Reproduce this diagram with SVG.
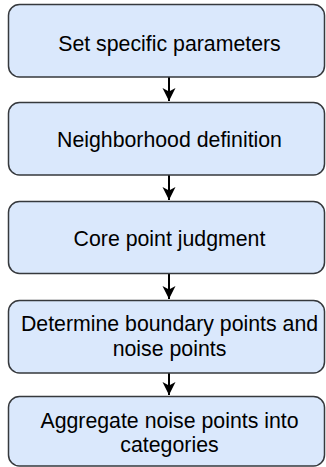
<svg xmlns="http://www.w3.org/2000/svg" width="326" height="467" viewBox="0 0 326 467">
<defs>
<style>
.box{fill:#dae8fc;stroke:#36393d;stroke-width:1.5}
.lbl{font-family:"Liberation Sans",Arial,sans-serif;font-size:21.3px;fill:#000;text-anchor:middle}
.con{stroke:#000;stroke-width:2;fill:none}
</style>
<marker id="ah" markerWidth="14" markerHeight="14" refX="13" refY="7" orient="auto" markerUnits="userSpaceOnUse">
<path d="M0,0.5 L13,7 L0,13.5 L3.5,7 Z" fill="#000"/>
</marker>
</defs>
<g id="connectors">
<line class="con" x1="169" y1="77" x2="169" y2="101" marker-end="url(#ah)"/>
<line class="con" x1="169" y1="175" x2="169" y2="200" marker-end="url(#ah)"/>
<line class="con" x1="169" y1="273" x2="169" y2="299" marker-end="url(#ah)"/>
<line class="con" x1="169" y1="373" x2="169" y2="395" marker-end="url(#ah)"/>
</g>
<g id="n1">
<rect class="box" x="8.5" y="4.5" width="316" height="72.5" rx="11"/>
<text class="lbl" x="169.5" y="51">Set specific parameters</text>
</g>
<g id="n2">
<rect class="box" x="8.5" y="102.5" width="316" height="72.5" rx="11"/>
<text class="lbl" x="169.5" y="147">Neighborhood definition</text>
</g>
<g id="n3">
<rect class="box" x="8.5" y="201.5" width="316" height="72" rx="11"/>
<text class="lbl" x="169.5" y="246">Core point judgment</text>
</g>
<g id="n4">
<rect class="box" x="8.5" y="300.5" width="316" height="72.5" rx="11"/>
<text class="lbl" x="169.5" y="331">Determine boundary points and</text>
<text class="lbl" x="169.5" y="356">noise points</text>
</g>
<g id="n5">
<rect class="box" x="8.5" y="396.5" width="316" height="69.5" rx="11"/>
<text class="lbl" x="169.5" y="428">Aggregate noise points into</text>
<text class="lbl" x="169.5" y="452">categories</text>
</g>
</svg>
